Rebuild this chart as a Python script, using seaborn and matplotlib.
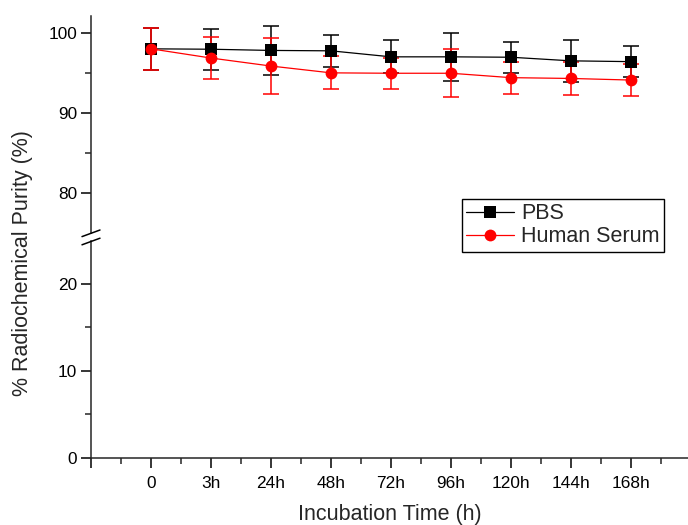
import numpy as np
import pandas as pd
import matplotlib
matplotlib.use("Agg")
import matplotlib.pyplot as plt
import seaborn as sns
from matplotlib.ticker import FixedLocator
from matplotlib.lines import Line2D

# ---- data ----
times = ["0", "3h", "24h", "48h", "72h", "96h", "120h", "144h", "168h"]
pbs_mean = [98.0, 97.95, 97.8, 97.75, 97.0, 97.0, 96.95, 96.5, 96.4]
pbs_err = [2.6, 2.55, 3.05, 2.0, 2.05, 3.0, 1.95, 2.6, 1.9]
hs_mean = [98.0, 96.85, 95.85, 95.0, 94.95, 94.95, 94.4, 94.3, 94.1]
hs_err = [2.6, 2.6, 3.45, 2.05, 1.95, 3.0, 2.0, 2.1, 2.0]
series_names = ["PBS", "Human Serum"]
series_colors = {"PBS": "black", "Human Serum": "red"}
series_markers = {"PBS": "s", "Human Serum": "o"}

pos = np.arange(len(times))
df = pd.DataFrame({
    "pos": np.concatenate([pos, pos]),
    "value": pbs_mean + hs_mean,
    "err": pbs_err + hs_err,
    "series": ["PBS"] * len(times) + ["Human Serum"] * len(times),
})

sns.set_style("ticks")
plt.rcParams["font.family"] = ["Liberation Sans", "DejaVu Sans"]
plt.rcParams["axes.linewidth"] = 1.1

W, H = 688, 525
fig = plt.figure(figsize=(W / 100, H / 100), dpi=100)

left = 91 / W
right = 688 / W
y_top = 1 - 16 / H
y_upper_bottom = 1 - 233 / H
y_lower_top = 1 - 241 / H
y_bottom = 1 - 458 / H

ax_top = fig.add_axes([left, y_upper_bottom, right - left, y_top - y_upper_bottom])
ax_bot = fig.add_axes([left, y_bottom, right - left, y_lower_top - y_bottom])

for ax in (ax_top, ax_bot):
    ax.set_facecolor("white")
    ax.set_xlim(-1, 8.95)
    ax.spines["right"].set_visible(False)
    ax.spines["top"].set_visible(False)
    ax.tick_params(axis="both", which="major", direction="out", length=7, width=1.1,
                   labelsize=12.4, colors="black", pad=3)
    ax.tick_params(axis="both", which="minor", direction="out", length=4, width=1.1)
ax_bot.tick_params(axis="x", which="major", pad=6)

# upper axes: data
ax_top.spines["bottom"].set_visible(False)
ax_top.tick_params(axis="x", which="both", bottom=False, labelbottom=False)
ax_top.set_ylim(75.0, 102.1)
ax_top.yaxis.set_major_locator(FixedLocator([80, 90, 100]))
ax_top.yaxis.set_minor_locator(FixedLocator([85, 95]))

for name, mean, err in [("PBS", pbs_mean, pbs_err), ("Human Serum", hs_mean, hs_err)]:
    ax_top.errorbar(pos, mean, yerr=err, fmt="none", ecolor=series_colors[name],
                    elinewidth=1.1, capsize=5.5, capthick=1.1, zorder=2)

sns.lineplot(data=df, x="pos", y="value", hue="series", style="series",
             hue_order=series_names, style_order=series_names,
             palette=series_colors, markers=series_markers, dashes=False,
             linewidth=0.9, markersize=8.5, markeredgewidth=0,
             ax=ax_top, legend=False, zorder=3)
ax_top.set_xlabel("")
ax_top.set_ylabel("")

# lower axes
ax_bot.set_ylim(0, 24.9)
ax_bot.yaxis.set_major_locator(FixedLocator([0, 10, 20]))
ax_bot.yaxis.set_minor_locator(FixedLocator([5, 15]))
ax_bot.xaxis.set_major_locator(FixedLocator(np.arange(-1, len(times))))
ax_bot.xaxis.set_minor_locator(FixedLocator(np.arange(-0.5, len(times), 1.0)))
ax_bot.set_xticklabels([""] + times)
ax_bot.set_xlabel("Incubation Time (h)", fontsize=15.5, labelpad=9)

ax_top.set_xlim(-1, 8.95)

# y label
fig.text(23 / W, 1 - 263 / H, "% Radiochemical Purity (%)", rotation=90,
         ha="center", va="center", fontsize=15.5)

# break marks
for yc in (233.3, 241.5):
    x0, x1 = 82 / W, 100 / W
    y0 = 1 - (yc + 3.3) / H
    y1 = 1 - (yc - 3.3) / H
    fig.add_artist(Line2D([x0, x1], [y0, y1], color="black", lw=1.1,
                          transform=fig.transFigure))

# legend
handles = [Line2D([], [], color=series_colors[n], marker=series_markers[n],
                  markersize=8.5 if n == "Human Serum" else 8, markeredgewidth=0,
                  lw=0.9) for n in series_names]
leg = fig.legend(handles, series_names, loc="upper left",
                 bbox_to_anchor=(462 / W, 1 - 199 / H), bbox_transform=fig.transFigure,
                 fontsize=15.5, frameon=True, fancybox=False, framealpha=1,
                 edgecolor="black", borderpad=0.2, labelspacing=0.1,
                 handlelength=2.2, handletextpad=0.35, borderaxespad=0)
leg.get_frame().set_linewidth(1.0)

fig.savefig("out.png", dpi=100, facecolor="white")
